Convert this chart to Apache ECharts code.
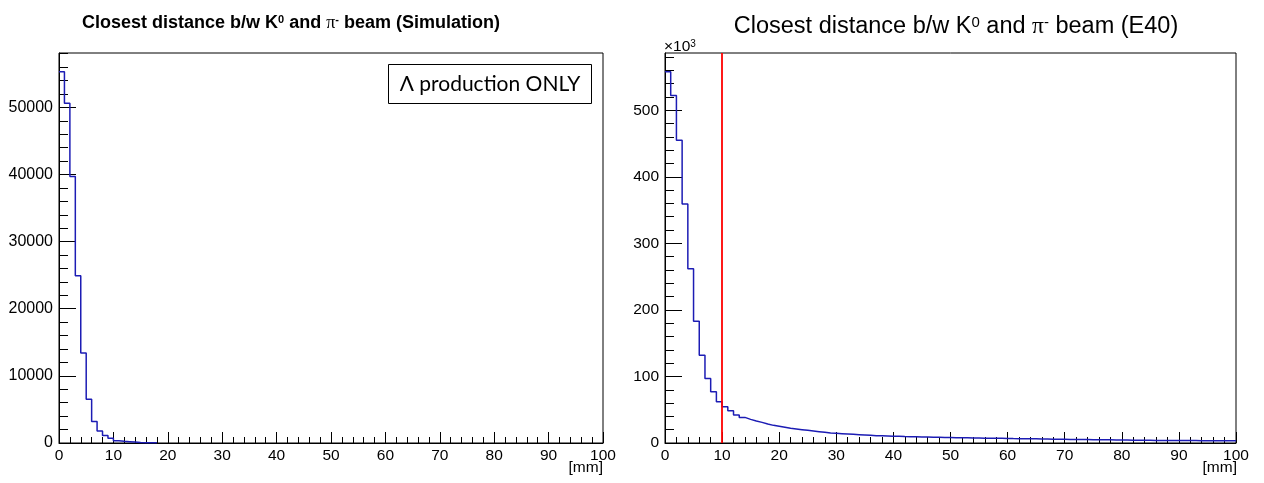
<!DOCTYPE html>
<html>
<head>
<meta charset="utf-8">
<script src="https://cdn.jsdelivr.net/npm/echarts@6/dist/echarts.min.js"></script>
<style>
html,body{margin:0;padding:0;background:#fff;}
#chart{width:1264px;height:483px;}
</style>
</head>
<body>
<div id="chart"></div>
<script>
// ---- data ----
// Left: Simulation (counts per 1 mm bin, bins start at 0 mm)
const leftValues = [55300, 50600, 39700, 24900, 13400, 6500, 3200, 1800, 1100, 700, 350, 250, 200, 150, 60, 50, 40, 30];
// Right: E40 data (counts per 1 mm bin, in units of 10^3)
const rightValues = [
  558, 522, 455, 359, 262, 183, 132, 97, 77, 62,
  54.5, 48.5, 42, 38.5, 35.5, 33, 31, 28.5, 26.5, 25,
  23.5, 22, 21, 20, 19, 18, 17, 16, 15, 14.5,
  14, 13.5, 13, 12.5, 12, 11.5, 11, 11, 10.5, 10,
  10, 9.7, 9.5, 9.3, 9.1, 8.9, 8.7, 8.5, 8.3, 8.2,
  8, 7.9, 7.8, 7.6, 7.5, 7.3, 7.2, 7.1, 7.0, 6.9,
  6.6, 6.5, 6.4, 6.3, 6.2, 6.1, 6.0, 5.8, 5.6, 5.5,
  5.4, 5.3, 5.2, 5.1, 5.0, 4.9, 4.8, 4.7, 4.6, 4.5,
  4.4, 4.3, 4.2, 4.1, 4.0, 3.9, 3.9, 3.8, 3.8, 3.7,
  3.7, 3.6, 3.6, 3.5, 3.5, 3.4, 3.4, 3.3, 3.3, 3.2
];
const binWidth = 1;
const cutValue = 10;             // red cut line [mm]
const xRange = [0, 100];
const leftYMax = 58100;
const rightYMax = 586;
const leftYMajor = [0, 10000, 20000, 30000, 40000, 50000];
const leftYMinor = [0,2000,4000,6000,8000,10000,12000,14000,16000,18000,20000,22000,24000,26000,28000,30000,32000,34000,36000,38000,40000,42000,44000,46000,48000,50000,52000,54000,56000,58000];
const rightYMajor = [0, 100, 200, 300, 400, 500];
const rightYMinor = [0,20,40,60,80,100,120,140,160,180,200,220,240,260,280,300,320,340,360,380,400,420,440,460,480,500,520,540,560,580];

// ---- build step points from bin arrays ----
function histPoints(vals, closeToZero) {
  const pts = vals.map((v, i) => [i * binWidth, v]);
  pts.push([vals.length * binWidth, vals[vals.length - 1]]);
  if (closeToZero) pts.push([vals.length * binWidth, 0]);
  return pts;
}

const FONT = "'Liberation Sans', Arial, sans-serif";
const histColor = '#1c1cb4';

function xAxisCfg(gi) {
  return {
    gridIndex: gi, type: 'value', min: xRange[0], max: xRange[1], interval: 10,
    axisLine: {show: true, onZero: false, lineStyle: {color: '#000', width: 1}},
    axisTick: {show: true, inside: true, length: 11, lineStyle: {color: '#000', width: 1}},
    minorTick: {show: true, splitNumber: 5, length: 6, lineStyle: {color: '#000', width: 1}},
    axisLabel: {color: '#000', fontSize: 15.5, fontFamily: FONT, margin: 5},
    splitLine: {show: false}, minorSplitLine: {show: false}
  };
}
function yMajorCfg(gi, max, major, fmt, size) {
  return {
    gridIndex: gi, type: 'value', min: 0, max: max, position: 'left',
    axisLine: {show: true, onZero: false, lineStyle: {color: '#000', width: 1}},
    axisTick: {show: true, inside: true, length: 17, customValues: major, lineStyle: {color: '#000', width: 1}},
    axisLabel: {color: '#000', fontSize: size, fontFamily: FONT, margin: 6, customValues: major, formatter: fmt},
    splitLine: {show: false}
  };
}
function yMinorCfg(gi, max, minor) {
  return {
    gridIndex: gi, type: 'value', min: 0, max: max, position: 'left',
    axisLine: {show: false},
    axisTick: {show: true, inside: true, length: 9, customValues: minor, lineStyle: {color: '#000', width: 1}},
    axisLabel: {show: false},
    splitLine: {show: false}
  };
}

const titleRich = (size, weight) => ({
  t: {fontSize: size, fontWeight: weight, fontFamily: FONT, color: '#000'},
  s: {fontSize: Math.round(size * 0.62), fontWeight: weight, fontFamily: FONT, color: '#000', verticalAlign: 'top', lineHeight: size * 0.7},
  p: {fontSize: size, fontWeight: 'normal', fontFamily: "'Liberation Serif', 'DejaVu Serif', serif", color: '#000'}
});

const option = {
  animation: false,
  backgroundColor: '#fff',
  title: [
    {
      text: '{t|Closest distance b/w K}{s|0}{t| and }{p|π}{s|-}{t| beam (Simulation)}',
      left: 77, top: 9,
      textStyle: {rich: titleRich(18, 'bold')}
    },
    {
      text: '{t|Closest distance b/w K}{s|0}{t| and }{p|π}{s|-}{t| beam (E40)}',
      left: 951, top: 10, textAlign: 'center',
      textStyle: {rich: titleRich(23.5, 'normal')}
    }
  ],
  grid: [
    {left: 59, top: 53, width: 544, height: 390, show: true, borderColor: '#000', borderWidth: 1, backgroundColor: '#fff'},
    {left: 665, top: 53, width: 571, height: 390, show: true, borderColor: '#000', borderWidth: 1, backgroundColor: '#fff'}
  ],
  xAxis: [xAxisCfg(0), xAxisCfg(1)],
  yAxis: [
    yMajorCfg(0, leftYMax, leftYMajor, v => String(v), 16),
    yMinorCfg(0, leftYMax, leftYMinor),
    yMajorCfg(1, rightYMax, rightYMajor, v => String(v), 15.5),
    yMinorCfg(1, rightYMax, rightYMinor)
  ],
  series: [
    {
      type: 'line', xAxisIndex: 0, yAxisIndex: 0, step: 'end', showSymbol: false, silent: true,
      data: histPoints(leftValues, true),
      lineStyle: {color: histColor, width: 1.5}, z: 3
    },
    {
      type: 'line', xAxisIndex: 1, yAxisIndex: 2, step: 'end', showSymbol: false, silent: true,
      data: histPoints(rightValues, false),
      lineStyle: {color: histColor, width: 1.5}, z: 3,
      markLine: {
        silent: true, symbol: ['none', 'none'], animation: false,
        label: {show: false},
        lineStyle: {color: '#ff0000', width: 1.8, type: 'solid'},
        data: [{xAxis: cutValue}]
      }
    }
  ],
  graphic: [
    {
      type: 'group', left: 388, top: 64,
      children: [
        {type: 'rect', shape: {x: 0, y: 0, width: 203, height: 39}, style: {fill: '#fff', stroke: '#000', lineWidth: 1}},
        {type: 'text', x: 101.5, y: 19.5, style: {text: 'Λ production ONLY', font: "21px Lato, 'Open Sans', sans-serif", fill: '#000', align: 'center', verticalAlign: 'middle'}}
      ]
    },
    {type: 'text', right: 1264 - 603, top: 460, style: {text: '[mm]', font: "15.5px 'Liberation Sans', Arial, sans-serif", fill: '#000'}},
    {type: 'text', right: 1264 - 1237, top: 460, style: {text: '[mm]', font: "15.5px 'Liberation Sans', Arial, sans-serif", fill: '#000'}},
    {type: 'text', left: 664, top: 39, style: {
      text: '{a|×10}{b|3}',
      rich: {a: {fontSize: 15.5, fontFamily: FONT, color: '#000'}, b: {fontSize: 10, fontFamily: FONT, color: '#000', verticalAlign: 'top', lineHeight: 10}}
    }}
  ]
};

const chart = echarts.init(document.getElementById('chart'), null, {renderer: 'canvas'});
chart.setOption(option);
</script>
</body>
</html>
